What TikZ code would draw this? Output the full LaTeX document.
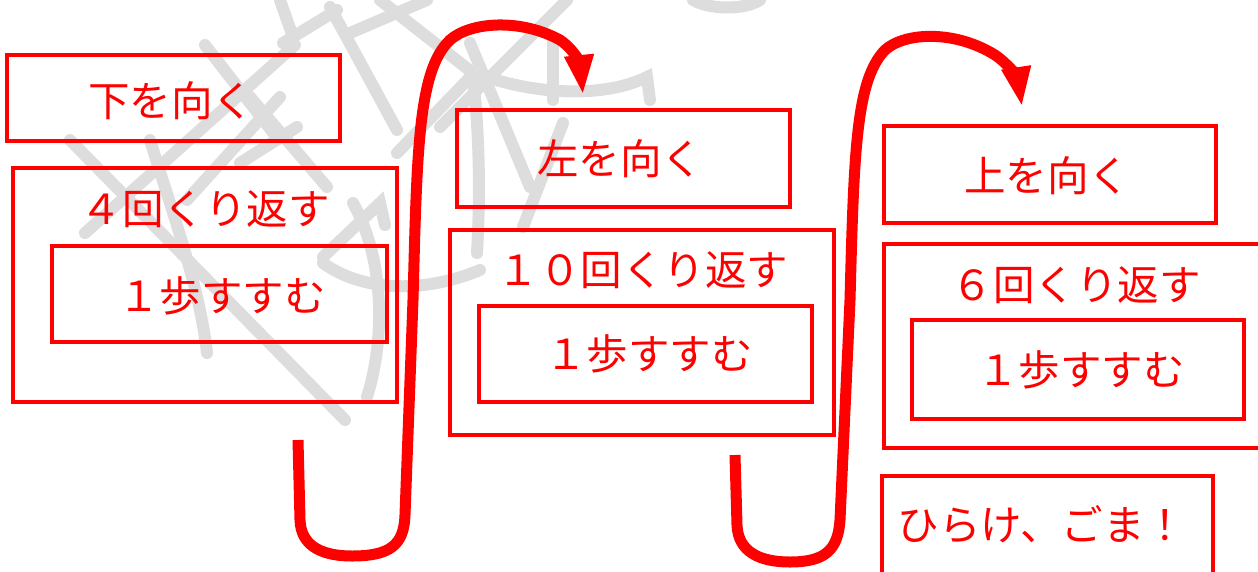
\documentclass[tikz,border=0pt]{standalone}
\usepackage{fontspec}
\newfontfamily\jpfont{Noto Sans CJK JP}
\usetikzlibrary{arrows.meta}
\definecolor{wm}{RGB}{221,221,221}
\definecolor{myred}{RGB}{255,0,0}
\begin{document}
\begin{tikzpicture}[x=1pt,y=-1pt,
  box/.style={draw=myred, line width=4pt, inner sep=0pt, outer sep=0pt},
  lbl/.style={text=myred, font=\jpfont\fontsize{41.5pt}{48pt}\selectfont, inner sep=0pt, text height=35pt, text depth=2pt},
  flow/.style={draw=myred, line width=11pt, -{Triangle[length=40pt,width=27pt]}},
  ink/.style={draw=wm, line width=12pt, line cap=round}]
\useasboundingbox (0,0) rectangle (1258,571);
\clip (0,0) rectangle (1258,571);
% watermark (brush character)
\draw[ink] (70,140) -- (345,420);
\draw[ink] (85,233) -- (295,45);
\draw[ink] (280,97) -- (187,200);
\draw[ink] (150,140) .. controls (175,220) and (200,290) .. (207,353);
\draw[ink] (205,45) -- (275,135);
\draw[ink] (250,97) -- (327,187);
\draw[ink] (280,0) -- (293,37);
\draw[ink] (330,7) -- (397,130);
\draw[ink] (380,0) -- (473,73);
\draw[ink] (283,43) -- (337,10);
\draw[ink] (350,33) -- (427,0);
\draw[ink] (240,163) -- (297,127);
\draw[ink] (397,153) -- (480,67);
\draw[ink] (440,127) -- (567,0);
\draw[ink] (470,43) -- (530,187);
\draw[ink] (487,77) .. controls (530,92) and (600,100) .. (647,77) -- (650,100);
\draw[ink] (553,40) -- (553,100);
\draw[ink] (473,77) .. controls (480,140) and (480,200) .. (477,253);
\draw[ink] (563,123) -- (523,227);
\draw[ink] (323,257) -- (380,203) -- (385,225);
\draw[ink] (353,203) .. controls (385,260) and (385,340) .. (367,397);
\draw[ink] (323,263) .. controls (360,290) and (420,295) .. (480,270);
\draw[ink] (693,0) .. controls (710,10) and (745,10) .. (760,0);
% boxes
\node[box, minimum width=333pt, minimum height=86pt] (b1) at (173.5,98) {};
\node[box, minimum width=384pt, minimum height=234pt] (b2) at (205,285) {};
\node[box, minimum width=335pt, minimum height=96pt] (b2i) at (219.5,294) {};
\node[box, minimum width=333pt, minimum height=97pt] (b3) at (623.5,158.5) {};
\node[box, minimum width=384pt, minimum height=205pt] (b4) at (642,332.5) {};
\node[box, minimum width=333pt, minimum height=96pt] (b4i) at (645.5,354) {};
\node[box, minimum width=332pt, minimum height=97pt] (b5) at (1050,174.5) {};
\node[box, minimum width=416pt, minimum height=204pt] (b6) at (1092,346) {};
\node[box, minimum width=332pt, minimum height=99pt] (b6i) at (1078,369.5) {};
\node[box, minimum width=331pt, minimum height=144pt] (b7) at (1047.5,548) {};
% labels
\node[lbl] (t1) at (171,100) {下を向く};
\node[lbl] (t2) at (205,208) {４回くり返す};
\node[lbl] (t2i) at (222,295) {１歩すすむ};
\node[lbl] (t3) at (620,158) {左を向く};
\node[lbl] (t4) at (643,269) {１０回くり返す};
\node[lbl] (t4i) at (649,353) {１歩すすむ};
\node[lbl] (t5) at (1047,175) {上を向く};
\node[lbl] (t6) at (1076,284) {６回くり返す};
\node[lbl] (t6i) at (1081,369) {１歩すすむ};
\node[lbl] (t7) at (1042,524) {ひらけ、ごま！};
% flow connectors
\coordinate (s1) at (298,440);
\coordinate (e1) at (583,95);
\coordinate (s2) at (735,455);
\coordinate (e2) at (1022,107);
\draw[flow] (s1) -- (300,520) .. controls (301,548) and (325,556) .. (352,556)
  .. controls (390,556) and (404,545) .. (405,515) -- (413,300)
  .. controls (417,150) and (418,70) .. (450,40)
  .. controls (470,22) and (520,18) .. (560,40)
  .. controls (575,50) and (580,65) .. (e1);
\draw[flow] (s2) -- (737,525) .. controls (738,552) and (760,562) .. (790,562)
  .. controls (825,562) and (838,550) .. (840,520) -- (850,300)
  .. controls (854,150) and (856,80) .. (885,50)
  .. controls (905,32) and (955,30) .. (995,55)
  .. controls (1010,65) and (1018,80) .. (e2);
\end{tikzpicture}
\end{document}
